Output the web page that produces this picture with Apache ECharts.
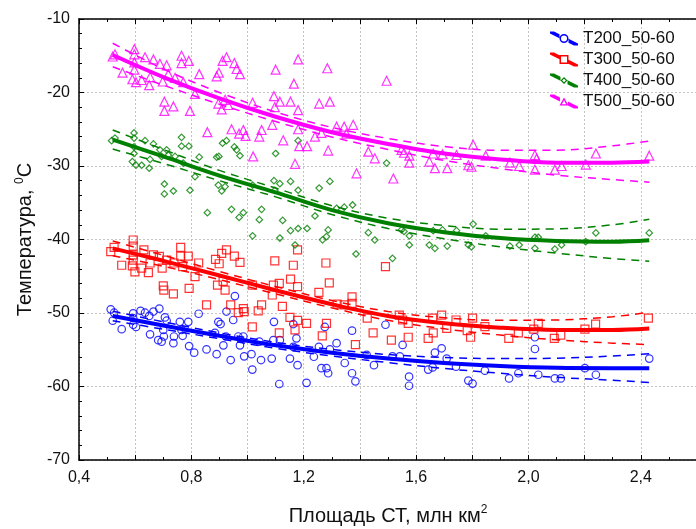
<!DOCTYPE html>
<html>
<head>
<meta charset="utf-8">
<script src="https://cdn.jsdelivr.net/npm/echarts@6/dist/echarts.min.js"></script>
<style>html,body{margin:0;padding:0;background:#fff}#c{width:696px;height:529px}</style>
</head>
<body>
<div id="c"></div>
<script>
// ---- data ----
var seriesNames = ['T200_50-60', 'T300_50-60', 'T400_50-60', 'T500_50-60'];
var xTickLabels = ['0,4', '0,8', '1,2', '1,6', '2,0', '2,4'];
var yTickLabels = ['-70', '-60', '-50', '-40', '-30', '-20', '-10'];

var xFit = [0.52, 0.7, 0.9, 1.1, 1.3, 1.5, 1.7, 1.9, 2.1, 2.3, 2.43];

var t200Fit   = [-50.4, -51.7, -53.1, -54.4, -55.4, -56.2, -56.8, -57.2, -57.45, -57.5, -57.5];
var t200Upper = [-49.75, -51.2, -52.7, -54.0, -54.95, -55.65, -56.05, -56.2, -56.15, -55.85, -55.55];
var t200Lower = [-51.05, -52.2, -53.5, -54.8, -55.85, -56.75, -57.55, -58.2, -58.75, -59.15, -59.45];

var t300Fit   = [-41.2, -42.9, -44.9, -46.9, -48.8, -50.4, -51.4, -52.0, -52.3, -52.3, -52.1];
var t300Upper = [-40.2, -42.15, -44.35, -46.4, -48.3, -49.8, -50.65, -51.0, -50.95, -50.5, -49.9];
var t300Lower = [-42.2, -43.65, -45.45, -47.4, -49.3, -51.0, -52.15, -53.0, -53.65, -54.1, -54.3];

var t400Fit   = [-26.4, -28.7, -31.3, -33.6, -36.0, -37.8, -39.0, -39.8, -40.2, -40.3, -40.1];
var t400Upper = [-25.1, -27.75, -30.6, -33.0, -35.4, -37.1, -38.1, -38.6, -38.55, -38.0, -37.25];
var t400Lower = [-27.7, -29.65, -32.0, -34.2, -36.6, -38.5, -39.9, -41.0, -41.85, -42.6, -42.95];

var t500Fit   = [-14.9, -17.9, -20.8, -23.3, -25.4, -27.0, -28.3, -29.1, -29.55, -29.55, -29.4];
var t500Upper = [-13.3, -16.8, -20.0, -22.65, -24.75, -26.25, -27.35, -27.85, -27.85, -27.25, -26.6];
var t500Lower = [-16.5, -19.0, -21.6, -23.95, -26.05, -27.75, -29.25, -30.35, -31.25, -31.85, -32.2];

var t200Pts = [[0.513,-49.5],[0.525,-49.96],[0.52,-51.05],[0.552,-52.2],[0.593,-50.05],[0.593,-50.7],[0.593,-51.6],[0.603,-51.9],
[0.619,-49.7],[0.635,-49.96],[0.65,-50.4],[0.653,-52.9],[0.665,-49.8],[0.686,-49.4],[0.706,-50.6],[0.712,-51.05],[0.70,-52.3],
[0.682,-53.7],[0.694,-53.9],[0.702,-53.2],[0.736,-54.1],[0.738,-53.2],[0.759,-51.2],[0.769,-53.1],[0.765,-52.3],[0.789,-51.2],
[0.792,-54.5],[0.81,-55.4],[0.826,-50.1],[0.854,-54.95],[0.89,-55.6],[0.896,-51.2],[0.904,-51.5],[0.884,-52.7],[0.914,-54.4],
[0.923,-53.2],[0.925,-49.8],[0.94,-56.4],[0.949,-50.95],[0.955,-47.7],[0.967,-53.2],[0.973,-54.4],[0.985,-53.2],[0.988,-55.9],
[1.014,-55.6],[1.017,-57.7],[1.042,-53.9],[1.048,-56.4],[1.086,-56.2],[1.092,-53.7],[1.094,-51.2],[1.115,-53.7],[1.113,-59.66],
[1.151,-56.2],[1.163,-51.5],[1.174,-53.45],[1.178,-57.1],[1.163,-54.6],[1.21,-59.5],[1.236,-55.95],[1.254,-54.6],[1.263,-57.5],
[1.281,-57.5],[1.287,-58.2],[1.293,-54.95],[1.275,-51.9],[1.317,-54.1],[1.346,-56.8],[1.372,-52.4],[1.372,-58.2],[1.384,-59.3],
[1.424,-55.7],[1.45,-57.1],[1.491,-51.6],[1.516,-55.9],[1.552,-54.35],[1.542,-55.9],[1.575,-58.66],[1.575,-59.9],[1.643,-57.7],
[1.659,-57.4],[1.667,-55.4],[1.691,-54.8],[1.709,-56.2],[1.742,-57.3],[1.786,-59.2],[1.801,-59.6],[1.845,-57.85],[1.931,-58.9],
[1.964,-58.2],[2.023,-53.3],[2.023,-54.9],[2.035,-58.4],[2.094,-58.9],[2.115,-58.9],[2.201,-57.5],[2.24,-58.4],[2.43,-56.2]];

var t300Pts = [[0.513,-41.66],[0.525,-41.07],[0.593,-40.07],[0.593,-40.9],[0.593,-42.1],[0.593,-42.8],[0.552,-43.5],[0.59,-43.6],
[0.599,-44.4],[0.623,-43.9],[0.631,-41.4],[0.653,-43.2],[0.647,-44.5],[0.665,-42.1],[0.686,-42.3],[0.712,-42.8],[0.696,-43.9],
[0.738,-43.2],[0.762,-41.07],[0.762,-42.25],[0.789,-42.25],[0.769,-43.7],[0.826,-43.2],[0.813,-45.06],[0.70,-46.3],[0.702,-46.9],
[0.736,-47.4],[0.792,-46.65],[0.854,-48.9],[0.886,-42.7],[0.899,-43.3],[0.908,-41.9],[0.925,-41.4],[0.953,-42.25],[0.973,-43.1],
[0.893,-46.2],[0.913,-45.7],[0.92,-46.9],[0.94,-48.9],[0.967,-49.96],[0.985,-49.4],[0.988,-49.8],[1.017,-46.2],[1.017,-51.9],
[1.038,-49.7],[1.05,-48.9],[1.088,-47.55],[1.092,-46.2],[1.097,-42.9],[1.113,-45.97],[1.124,-49.1],[1.113,-52.7],[1.153,-45.4],
[1.151,-50.6],[1.163,-43.5],[1.169,-52.3],[1.178,-41.4],[1.178,-46.4],[1.178,-51.0],[1.21,-51.4],[1.254,-47.2],[1.266,-53.1],
[1.281,-51.4],[1.291,-45.9],[1.279,-43.2],[1.319,-48.8],[1.344,-48.9],[1.372,-47.8],[1.372,-48.7],[1.384,-54.3],[1.426,-50.7],
[1.447,-52.7],[1.491,-43.7],[1.512,-53.7],[1.54,-50.3],[1.552,-50.95],[1.572,-51.4],[1.572,-53.3],[1.643,-53.45],[1.661,-52.7],
[1.659,-50.7],[1.691,-50.3],[1.709,-52.1],[1.742,-50.95],[1.782,-52.4],[1.794,-53.3],[1.801,-50.7],[1.845,-51.86],[1.93,-53.45],
[1.964,-52.7],[2.019,-52.2],[2.035,-51.4],[2.092,-53.45],[2.115,-53.0],[2.201,-52.2],[2.239,-51.5],[2.427,-50.7]];

var t400Pts = [[0.516,-26.55],[0.528,-26.2],[0.596,-25.5],[0.596,-26.2],[0.596,-27.4],[0.596,-28.3],[0.59,-29.4],[0.603,-29.9],
[0.623,-29.9],[0.635,-26.55],[0.653,-29.1],[0.65,-30.3],[0.665,-27.0],[0.688,-27.8],[0.694,-28.7],[0.712,-27.8],[0.718,-28.5],
[0.742,-28.7],[0.765,-26.1],[0.765,-27.3],[0.791,-27.3],[0.771,-29.6],[0.828,-28.8],[0.813,-31.45],[0.704,-32.45],[0.704,-33.8],
[0.736,-33.4],[0.795,-33.3],[0.857,-36.35],[0.89,-28.8],[0.898,-28.7],[0.911,-26.9],[0.925,-26.55],[0.953,-27.4],[0.961,-27.8],
[0.973,-28.6],[0.896,-32.6],[0.908,-33.4],[0.92,-32.8],[0.943,-35.9],[0.97,-37.0],[0.985,-36.35],[1.018,-32.6],[1.018,-39.5],
[1.042,-37.3],[1.05,-35.9],[1.094,-32.0],[1.10,-28.3],[1.097,-33.3],[1.115,-32.4],[1.125,-37.4],[1.115,-39.8],[1.153,-32.1],
[1.153,-38.8],[1.169,-40.75],[1.18,-26.55],[1.18,-33.3],[1.18,-38.5],[1.212,-38.5],[1.24,-36.8],[1.255,-33.0],[1.267,-40.05],
[1.281,-39.6],[1.287,-38.7],[1.293,-32.1],[1.317,-35.75],[1.344,-35.6],[1.374,-35.3],[1.386,-41.97],[1.43,-39.07],[1.453,-40.07],
[1.495,-29.6],[1.516,-42.56],[1.548,-38.7],[1.557,-38.9],[1.576,-39.5],[1.576,-40.75],[1.647,-40.75],[1.667,-41.2],[1.661,-38.8],
[1.694,-38.7],[1.711,-40.9],[1.744,-38.8],[1.786,-40.75],[1.797,-41.0],[1.803,-37.9],[1.848,-39.5],[1.934,-40.9],[1.967,-40.75],
[2.023,-39.7],[2.035,-39.7],[2.023,-41.2],[2.094,-41.3],[2.118,-40.75],[2.204,-40.3],[2.24,-39.1],[2.43,-39.1]];

var t500Pts = [[0.52,-15.1],[0.528,-14.8],[0.597,-14.1],[0.597,-14.8],[0.597,-15.9],[0.597,-16.9],[0.555,-17.3],[0.59,-18.2],
[0.603,-18.6],[0.623,-18.3],[0.635,-15.2],[0.653,-17.9],[0.665,-15.5],[0.688,-16.1],[0.712,-16.3],[0.718,-17.5],[0.65,-19.0],
[0.698,-18.5],[0.742,-18.0],[0.765,-15.0],[0.765,-16.0],[0.791,-15.7],[0.771,-18.6],[0.813,-20.2],[0.828,-17.5],[0.704,-21.25],
[0.704,-22.5],[0.736,-21.9],[0.795,-22.5],[0.857,-25.4],[0.89,-17.8],[0.898,-17.3],[0.911,-15.7],[0.925,-15.2],[0.953,-16.0],
[0.961,-16.8],[0.973,-17.5],[0.92,-21.0],[0.896,-21.5],[0.908,-22.3],[0.931,-21.7],[0.943,-25.0],[0.97,-25.6],[0.985,-25.1],
[0.993,-25.9],[1.018,-21.4],[1.02,-28.7],[1.042,-26.0],[1.05,-25.1],[1.088,-24.4],[1.094,-20.5],[1.10,-16.9],[1.097,-22.0],
[1.115,-21.25],[1.127,-26.5],[1.153,-21.25],[1.165,-18.8],[1.169,-29.7],[1.18,-15.5],[1.18,-22.4],[1.18,-25.0],[1.184,-27.3],
[1.212,-27.3],[1.24,-26.0],[1.255,-21.5],[1.263,-25.5],[1.284,-16.7],[1.293,-21.25],[1.287,-27.9],[1.317,-24.65],[1.344,-24.65],
[1.352,-25.6],[1.376,-24.4],[1.388,-31.0],[1.43,-28.05],[1.453,-28.96],[1.495,-18.4],[1.519,-31.7],[1.548,-27.8],[1.557,-28.2],
[1.576,-28.6],[1.576,-29.55],[1.647,-29.4],[1.661,-28.3],[1.667,-30.3],[1.694,-28.4],[1.711,-30.3],[1.744,-28.5],[1.786,-29.9],
[1.797,-30.1],[1.803,-27.1],[1.848,-28.6],[1.934,-29.55],[1.967,-30.0],[2.023,-28.5],[2.029,-29.0],[2.023,-30.5],[2.094,-30.5],
[2.118,-30.0],[2.204,-29.8],[2.24,-28.3],[2.43,-28.6]];

// ---- styling ----
var colors = ['#0000ff', '#ff0000', '#008000', '#ff00ff'];
var symbols = ['circle', 'rect', 'diamond', 'triangle'];
var symSizes = [7.5, 8, 6.5, 9];
var FONT = 'Liberation Sans, Arial, sans-serif';

function zip(xs, ys) { return xs.map(function (x, i) { return [x, ys[i]]; }); }

function segs(a, b) {
  return 'M0,0 L4,0 L' + a + ',' + (a / 2 - 2) + ' L' + a + ',' + (a / 2 + 2) + ' L0,2 Z ' +
         'M' + b + ',' + (b / 2 - 2) + ' L28,12 L28,14 L24,14 L' + b + ',' + (b / 2 + 2) + ' Z ';
}
var legendIcons = [
  'path://' + segs(9.5, 18.5) + 'M18.5,7 A4.5,4.5 0 1,0 9.5,7 A4.5,4.5 0 1,0 18.5,7 Z M17,7 A3,3 0 1,1 11,7 A3,3 0 1,1 17,7 Z',
  'path://' + segs(9.5, 18.5) + 'M9.5,2.5 L18.5,2.5 L18.5,11.5 L9.5,11.5 Z M11,4 L11,10 L17,10 L17,4 Z',
  'path://' + segs(10.5, 17.5) + 'M14,3.5 L17.5,7 L14,10.5 L10.5,7 Z M14,5.2 L12.2,7 L14,8.8 L15.8,7 Z',
  'path://' + segs(10, 18) + 'M14,3 L18.5,11 L9.5,11 Z M14,5.8 L11.9,9.7 L16.1,9.7 Z'
];

var fits = [t200Fit, t300Fit, t400Fit, t500Fit];
var uppers = [t200Upper, t300Upper, t400Upper, t500Upper];
var lowers = [t200Lower, t300Lower, t400Lower, t500Lower];
var pts = [t200Pts, t300Pts, t400Pts, t500Pts];

var series = [];
for (var i = 0; i < 4; i++) {
  series.push({
    name: seriesNames[i] + ' pts', type: 'scatter', data: pts[i], symbol: symbols[i], symbolSize: symSizes[i],
    itemStyle: { color: 'rgba(255,255,255,0)', borderColor: colors[i], borderWidth: 1.2 }, z: 2, silent: true
  });
}
for (var j = 0; j < 4; j++) {
  series.push({
    name: seriesNames[j] + ' up', type: 'line', data: zip(xFit, uppers[j]), smooth: 0.35, showSymbol: false,
    lineStyle: { color: colors[j], width: 1.5, type: [8, 6] }, z: 3, silent: true
  });
  series.push({
    name: seriesNames[j] + ' low', type: 'line', data: zip(xFit, lowers[j]), smooth: 0.35, showSymbol: false,
    lineStyle: { color: colors[j], width: 1.5, type: [8, 6] }, z: 3, silent: true
  });
  series.push({
    name: seriesNames[j], type: 'line', data: zip(xFit, fits[j]), smooth: 0.35, showSymbol: false,
    color: colors[j], lineStyle: { color: colors[j], width: 4 }, z: 4, silent: true
  });
}

var chart = echarts.init(document.getElementById('c'), null, { renderer: 'canvas' });
chart.setOption({
  backgroundColor: '#ffffff',
  animation: false,
  textStyle: { fontFamily: FONT },
  grid: { left: 79, top: 19, width: 618, height: 441, containLabel: false, outerBoundsMode: 'none' },
  legend: {
    orient: 'vertical', left: 545, top: 24, itemWidth: 28, itemHeight: 15, itemGap: 2,
    data: seriesNames.map(function (n, k) { return { name: n, icon: legendIcons[k], itemStyle: { color: colors[k] } }; }),
    textStyle: { fontSize: 17, color: '#111', fontFamily: FONT, lineHeight: 19 },
    selectedMode: false
  },
  xAxis: [{
    type: 'value', min: 0.4, max: 2.6, interval: 0.2,
    name: '{a|Площадь СТ, млн км}{s|2}', nameLocation: 'middle', nameGap: 44,
    nameTextStyle: { rich: {
      a: { fontSize: 20, fontFamily: FONT, color: '#111', lineHeight: 24 },
      s: { fontSize: 12, fontFamily: FONT, color: '#111', verticalAlign: 'top', lineHeight: 24 } } },
    axisLine: { show: true, onZero: false, lineStyle: { color: '#000', width: 1.5 } },
    axisTick: { show: true, inside: true, length: 5, lineStyle: { color: '#000' } },
    minorTick: { show: true, splitNumber: 2, length: 3, lineStyle: { color: '#000' } },
    axisLabel: { margin: 10, fontSize: 16, color: '#111', fontFamily: FONT,
      formatter: function (v) {
        var k = Math.round((v - 0.4) / 0.4 * 1000) / 1000;
        if (Math.abs(k - Math.round(k)) > 1e-6) return '';
        return xTickLabels[Math.round(k)] || '';
      } },
    splitLine: { show: true, lineStyle: { color: '#c4c4c4', type: [2, 2], width: 1 } }
  }, {
    type: 'value', min: 0.4, max: 2.6, interval: 0.2, position: 'top',
    axisLine: { show: true, onZero: false, lineStyle: { color: '#000', width: 1.5 } },
    axisTick: { show: true, inside: true, length: 5, lineStyle: { color: '#000' } },
    minorTick: { show: true, splitNumber: 2, length: 3, lineStyle: { color: '#000' } },
    axisLabel: { show: false }, splitLine: { show: false }
  }],
  yAxis: {
    type: 'value', min: -70, max: -10, interval: 10,
    name: '{a|Температура, }{s|0}{a|C}', nameLocation: 'middle', nameGap: 38,
    nameTextStyle: { rich: {
      a: { fontSize: 20, fontFamily: FONT, color: '#111', lineHeight: 24 },
      s: { fontSize: 12, fontFamily: FONT, color: '#111', verticalAlign: 'top', lineHeight: 24 } } },
    axisLine: { show: true, onZero: false, lineStyle: { color: '#000', width: 1.5 } },
    axisTick: { show: true, inside: true, length: 5, lineStyle: { color: '#000' } },
    minorTick: { show: true, splitNumber: 5, length: 3, lineStyle: { color: '#000' } },
    axisLabel: { margin: 9, fontSize: 16, color: '#111', fontFamily: FONT,
      formatter: function (v) { return yTickLabels[Math.round((v + 70) / 10)] || ''; } },
    splitLine: { show: true, lineStyle: { color: '#c4c4c4', type: [2, 2], width: 1 } }
  },
  series: series
});
</script>
</body>
</html>
